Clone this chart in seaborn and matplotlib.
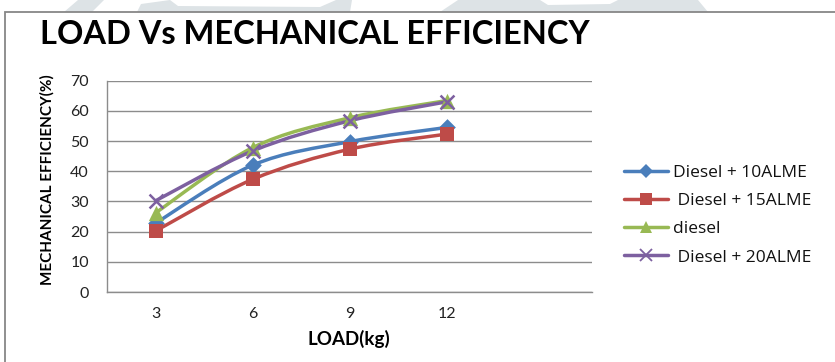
import numpy as np
import pandas as pd
import matplotlib
matplotlib.use("Agg")
import matplotlib.pyplot as plt
import seaborn as sns
from matplotlib.path import Path
from matplotlib.patches import PathPatch, Polygon, Rectangle
from matplotlib.lines import Line2D

# ---- data ----
loads = ["3", "6", "9", "12"]
series_names = ["Diesel + 10ALME", " Diesel + 15ALME", "diesel", " Diesel + 20ALME"]
eff_10alme = [22.8, 42.0, 49.8, 54.5]
eff_15alme = [20.2, 37.3, 47.3, 52.3]
eff_diesel = [26.2, 47.8, 57.7, 63.4]
eff_20alme = [30.2, 46.7, 56.7, 63.0]
y_ticks = [0, 10, 20, 30, 40, 50, 60, 70]

colors = ["#4A7EBB", "#BE4B48", "#98B954", "#7D60A0"]
markers = ["D", "s", "^", "x"]
msizes = [8.5, 10.5, 11.0, 10.0]

values = [eff_10alme, eff_15alme, eff_diesel, eff_20alme]
rows = []
for name, vals in zip(series_names, values):
    for i, (ld, v) in enumerate(zip(loads, vals)):
        rows.append({"pos": i, "load": ld, "eff": v, "series": name})
df = pd.DataFrame(rows)

sns.set_theme(style="white")
plt.rcParams["font.family"] = ["Lato", "DejaVu Sans"]

W, H = 835, 362
fig = plt.figure(figsize=(W / 100, H / 100), dpi=100)
fig.patch.set_facecolor("white")

# faint background shapes above the chart frame
wm = "#DDE3E6"
for poly in [
    [(64, 12), (78, 0), (104, 0), (92, 12)],
    [(137, 12), (141, 4), (170, 0), (178, 6), (320, 7), (336, 0), (352, 0), (350, 12)],
    [(440, 12), (452, 4), (458, 0), (540, 0), (548, 5), (610, 4), (618, 0), (698, 0), (708, 12)],
]:
    fig.patches.append(Polygon([(x / W, 1 - y / H) for x, y in poly], closed=True,
                               transform=fig.transFigure, facecolor=wm, edgecolor="none",
                               zorder=-3))

# chart frame
fig.patches.append(Rectangle((5 / W, -0.1), 1.2, 1 - 12 / H + 0.1, transform=fig.transFigure,
                             facecolor="white", edgecolor="#878787", linewidth=1.3,
                             zorder=-2))

left, right, top, bottom = 107, 592, 80.7, 292
ax = fig.add_axes([left / W, 1 - bottom / H, (right - left) / W, (bottom - top) / H])
ax.set_facecolor("white")

ax.set_xlim(-0.5, 4.5)
ax.set_ylim(0, 70)
ax.set_yticks(y_ticks)
ax.set_xticks(range(len(loads)))
ax.set_xticklabels(loads)
ax.grid(axis="y", color="#8C8C8C", linewidth=1.0)
ax.grid(axis="x", visible=False)
for s in ["top", "right"]:
    ax.spines[s].set_visible(False)
for s in ["left", "bottom"]:
    ax.spines[s].set_color("#8C8C8C")
    ax.spines[s].set_linewidth(1.0)
ax.tick_params(axis="y", length=0, pad=13, labelsize=11.5, labelcolor="#222222")
ax.tick_params(axis="x", length=0, pad=11, labelsize=11.5, labelcolor="#222222")


def smooth_path(xs, ys):
    p = np.column_stack([xs, ys]).astype(float)
    ext = np.vstack([p[0], p, p[-1]])
    verts = [p[0]]
    codes = [Path.MOVETO]
    for i in range(len(p) - 1):
        a, b, c, d = ext[i], ext[i + 1], ext[i + 2], ext[i + 3]
        verts += [b + (c - a) / 6.0, c - (d - b) / 6.0, c]
        codes += [Path.CURVE4] * 3
    return Path(verts, codes)


for name, col, mk, ms in zip(series_names, colors, markers, msizes):
    sub = df[df["series"] == name]
    ax.add_patch(PathPatch(smooth_path(sub["pos"], sub["eff"]), facecolor="none",
                           edgecolor=col, linewidth=2.5, capstyle="round", joinstyle="round",
                           zorder=2))
    if mk == "x":
        sns.scatterplot(data=sub, x="pos", y="eff", marker=mk, color=col, s=ms ** 2,
                        linewidth=1.8, ax=ax, legend=False, zorder=3)
    else:
        sns.scatterplot(data=sub, x="pos", y="eff", marker=mk, color=col, s=ms ** 2,
                        linewidth=0, ax=ax, legend=False, zorder=3)

ax.set_xlabel("")
ax.set_ylabel("")

handles = [Line2D([0], [0], color=c, lw=2.5, marker=m, markersize=ms * 0.85,
                  markeredgewidth=1.3 if m == "x" else 0, markerfacecolor=c, markeredgecolor=c)
           for c, m, ms in zip(colors, markers, msizes)]
fig.legend(handles, series_names, loc="center left",
           bbox_to_anchor=(615 / W, 1 - 215 / H), frameon=False,
           prop={"family": ["Open Sans", "DejaVu Sans"], "size": 12.5},
           handlelength=2.55, handletextpad=0.3, labelspacing=0.7,
           borderpad=0, labelcolor="#111111")

fig.text(40 / W, 1 - 35 / H, "LOAD Vs MECHANICAL EFFICIENCY", fontsize=23.5,
         fontweight="bold", ha="left", va="center", color="black")
fig.text(47 / W, 1 - 180 / H, "MECHANICAL EFFICIENCY(%)", fontsize=11, fontweight="bold",
         rotation=90, ha="center", va="center", color="black")
fig.text(349 / W, 1 - 339 / H, "LOAD(kg)", fontsize=13.5, fontweight="bold",
         ha="center", va="center", color="black")

fig.savefig("out.png", dpi=100, facecolor="white")
